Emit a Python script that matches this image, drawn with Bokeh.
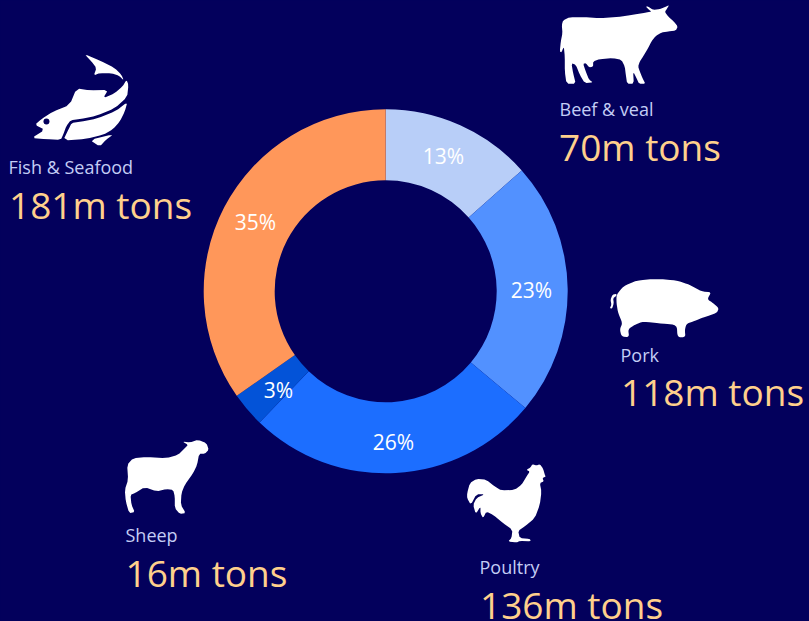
import numpy as np
from bokeh.plotting import figure
from bokeh.models import Range1d
from bokeh.core.properties import value
from bokeh.embed import file_html
from bokeh.resources import INLINE

# ---------- data ----------
categories = ["Beef & veal", "Pork", "Poultry", "Sheep", "Fish & Seafood"]
tons = [70, 118, 136, 16, 181]
colors = ["#B8CEF8", "#5291FF", "#1C6EFF", "#0353D8", "#FF975A"]

# ---------- layout (page pixels, y down) ----------
W, H = 809, 621
BG = "#03005C"
FONT = "Open Sans"
CX, CY, R_OUT, R_IN = 385.2, 290.8, 182.0, 111.0
pct_xy = [(443, 155), (531, 289), (393, 441), (278, 389), (255, 221)]
name_xy = [(559, 108), (620, 354), (479, 566), (125, 534), (8, 166)]
big_xy = [(558.5, 145.5), (620.5, 391), (479.5, 604), (125, 572), (8.5, 203.5)]
ICON_SHIFT = -0.7


def Y(y):
    return H - y


def smooth(pts, n=1):
    for _ in range(n):
        out = []
        for i, (a, b) in enumerate(pts):
            c, d = pts[(i + 1) % len(pts)]
            out.append((0.8 * a + 0.2 * c, 0.8 * b + 0.2 * d))
            out.append((0.2 * a + 0.8 * c, 0.2 * b + 0.8 * d))
        pts = out
    return pts


p = figure(width=W, height=H, x_range=Range1d(0, W), y_range=Range1d(0, H),
           x_axis_type=None, y_axis_type=None, toolbar_location=None,
           output_backend="svg", min_border=0, outline_line_color=None,
           background_fill_color=BG, border_fill_color=BG)
p.grid.visible = False
p.styles = {"position": "absolute", "left": "0", "top": "0", "background-color": BG}

# ---------- donut ----------
arr = np.array(tons, dtype=float)
edges = np.concatenate([[0], np.cumsum(arr)]) / arr.sum() * 2 * np.pi
starts = np.pi / 2 - edges[:-1]
ends = np.pi / 2 - edges[1:]
p.annular_wedge(x=[CX] * 5, y=[Y(CY)] * 5, inner_radius=R_IN, outer_radius=R_OUT,
                start_angle=starts, end_angle=ends, direction="clock",
                fill_color=colors, line_color=None)


# ---------- icons (outlines in zoom-crop pixels: origin + pt/3) ----------
def icon(ox, oy, pts, n=1, color="white"):
    pts = smooth(pts, n)
    xs = [ox + ICON_SHIFT + a / 3 for a, _ in pts]
    ys = [Y(oy + ICON_SHIFT + b / 3) for _, b in pts]
    p.patch(xs, ys, fill_color=color, line_color=None)


cow = [(40,62),(60,52),(100,52),(150,55),(200,52),(250,45),(290,38),(305,35),(298,30),(288,20),(295,20),(310,30),(330,28),(345,22),(358,16),(352,26),(345,36),(355,50),(372,65),(384,80),(378,92),(355,95),(335,98),(318,108),(305,125),(295,145),(280,170),(270,185),(265,200),(270,215),(278,235),(287,252),(268,252),(260,235),(250,215),(252,252),(232,252),(228,225),(225,200),(215,180),(190,175),(150,178),(130,185),(130,200),(118,203),(108,190),(100,192),(108,215),(118,240),(130,248),(105,250),(90,225),(78,195),(65,190),(70,220),(78,252),(50,252),(45,215),(45,170),(42,140),(35,158),(30,155),(33,125),(38,100),(36,75)]
icon(550, 0, cow)

fish_tail = [(253,42),(300,62),(345,85),(365,105),(372,122),(358,108),(335,100),(300,100),(282,107),(290,85),(275,65)]
fish_top = [(105,255),(125,238),(160,215),(210,195),(230,146),(270,152),(325,150),(310,175),(345,160),(368,140),(380,120),(386,135),(382,172),(345,205),(290,228),(240,238),(213,241),(200,258),(190,285),(183,300),(140,298),(95,295),(135,270)]
fish_belly = [(383,186),(375,215),(360,245),(340,268),(310,285),(260,297),(190,302),(208,265),(215,250),(240,246),(292,236),(348,214)]
fish_fin = [(270,300),(342,283),(318,300),(300,320)]
for part in (fish_tail, fish_top, fish_belly, fish_fin):
    icon(0, 40, part, n=1)
p.scatter(x=[140 / 3 + ICON_SHIFT], y=[Y(40 + ICON_SHIFT + 245 / 3)], size=6, fill_color=BG, line_color=None)

pig = [(50,75),(70,50),(110,32),(170,27),(230,32),(270,45),(305,65),(335,67),(322,88),(340,100),(357,115),(352,128),(330,137),(305,145),(280,155),(260,162),(255,180),(257,202),(233,202),(231,165),(190,162),(130,155),(105,165),(85,178),(88,202),(65,200),(60,178),(68,160),(55,130),(50,100)]
pig_tail = [(50,72),(38,75),(32,90),(35,105),(30,115),(37,116),(42,100),(40,85),(50,78)]
icon(600, 270, pig, n=2)
icon(600, 270, pig_tail, n=1)

sheep = [(52,105),(70,85),(110,82),(170,85),(205,75),(225,55),(235,45),(218,35),(240,38),(265,30),(290,40),(297,60),(285,72),(268,72),(262,105),(250,130),(225,165),(215,190),(213,225),(228,250),(210,252),(195,235),(195,200),(190,180),(170,178),(140,185),(105,172),(75,190),(62,195),(65,225),(75,247),(58,250),(48,215),(45,180),(55,150)]
icon(110, 430, sheep)

rooster = [(22,115),(30,85),(50,72),(80,75),(105,95),(125,107),(165,105),(185,90),(200,65),(210,50),(200,45),(212,38),(218,28),(230,32),(240,28),(250,42),(255,60),(258,65),(248,70),(252,80),(240,85),(245,110),(240,150),(225,190),(195,215),(175,228),(180,250),(210,252),(213,260),(180,258),(170,263),(145,260),(155,250),(158,225),(130,205),(100,180),(80,170),(70,190),(62,175),(62,155),(48,178),(40,150),(50,130),(75,118),(50,118),(33,150),(22,130)]
icon(460, 455, rooster)

# ---------- texts ----------
total = sum(tons)
p.text(x=[a for a, _ in pct_xy], y=[Y(b) for _, b in pct_xy],
       text=[f"{round(100 * t / total)}%" for t in tons],
       text_color="white", text_font=value(FONT), text_font_size="21px",
       text_align="center", text_baseline="middle")
p.text(x=[a for a, _ in name_xy], y=[Y(b) for _, b in name_xy], text=categories,
       text_color="#C3CDF5", text_font=value(FONT), text_font_size="18px",
       text_align="left", text_baseline="middle")
p.text(x=[a for a, _ in big_xy], y=[Y(b) for _, b in big_xy],
       text=[f"{t}m tons" for t in tons],
       text_color="#FFD08C", text_font=value(FONT), text_font_size="37px",
       text_align="left", text_baseline="middle")

open("out.html", "w").write(file_html(p, INLINE))
